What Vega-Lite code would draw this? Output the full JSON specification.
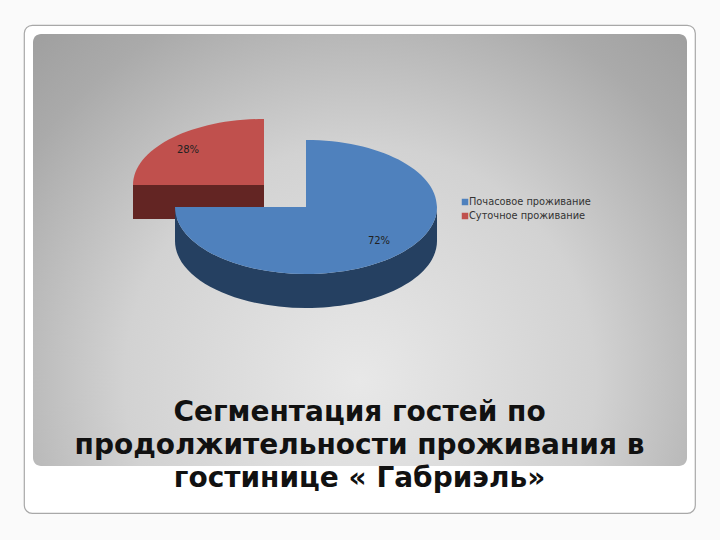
{
  "$schema": "https://vega.github.io/schema/vega-lite/v6.json",
  "width": 671,
  "height": 488,
  "autosize": "none",
  "padding": {"left": 24, "top": 25, "right": 25, "bottom": 27},
  "background": "#fafafa",
  "view": {"fill": "#ffffff", "stroke": "#a8a8a8", "strokeWidth": 1.2, "cornerRadius": 8},
  "title": {
    "text": ["Сегментация гостей по", "продолжительности проживания в", "гостинице « Габриэль»"],
    "orient": "bottom",
    "anchor": "middle",
    "frame": "group",
    "offset": -114,
    "font": "DejaVu Sans",
    "fontSize": 28,
    "fontWeight": "bold",
    "color": "#111111",
    "lineHeight": 33
  },
  "data": {
    "values": [
      {"segment": "Суточное проживание", "share": 0.28},
      {"segment": "Почасовое проживание", "share": 0.72}
    ]
  },
  "layer": [
    {
      "data": {"values": [{"part": "panel"}]},
      "mark": {
        "type": "point",
        "filled": true,
        "opacity": 1,
        "size": 4,
        "shape": "M -318.5 -235 H 319.5 A 8 8 0 0 1 327.5 -227 V 189 A 8 8 0 0 1 319.5 197 H -318.5 A 8 8 0 0 1 -326.5 189 V -227 A 8 8 0 0 1 -318.5 -235 Z",
        "color": {
          "gradient": "radial",
          "x1": 0.5, "y1": 0.7, "r1": 0,
          "x2": 0.5, "y2": 0.7, "r2": 0.72,
          "stops": [
            {"offset": 0, "color": "#e8e8e8"},
            {"offset": 0.5, "color": "#d2d2d2"},
            {"offset": 0.85, "color": "#aaaaaa"},
            {"offset": 1, "color": "#a0a0a0"}
          ]
        }
      }
    },
    {
      "mark": {"type": "point", "filled": true, "opacity": 1, "size": 4},
      "encoding": {
        "shape": {
          "field": "segment",
          "type": "nominal",
          "legend": null,
          "scale": {
            "domain": ["Почасовое проживание", "Суточное проживание"],
            "range": [
              "M 77.5 -62 L 77.5 -28 A 131 67 0 0 1 -184.5 -28 L -184.5 -62 A 131 67 0 0 0 77.5 -62 Z",
              "M -226.5 -84 L -95.5 -84 L -95.5 -50 L -226.5 -50 Z"
            ]
          }
        },
        "fill": {
          "field": "segment",
          "type": "nominal",
          "legend": null,
          "scale": {
            "domain": ["Почасовое проживание", "Суточное проживание"],
            "range": ["#254061", "#632523"]
          }
        }
      }
    },
    {
      "mark": {"type": "point", "filled": true, "opacity": 1, "size": 4},
      "encoding": {
        "shape": {
          "field": "segment",
          "type": "nominal",
          "legend": null,
          "scale": {
            "domain": ["Почасовое проживание", "Суточное проживание"],
            "range": [
              "M -53.5 -62 L -53.5 -129 A 131 67 0 1 1 -184.5 -62 Z",
              "M -95.5 -84 L -95.5 -150 A 131 66 0 0 0 -226.5 -84 Z"
            ]
          }
        },
        "color": {
          "field": "segment",
          "type": "nominal",
          "legend": null,
          "scale": {
            "domain": ["Почасовое проживание", "Суточное проживание"],
            "range": ["#4f81bd", "#c0504d"]
          }
        }
      }
    },
    {
      "mark": {"type": "text", "font": "DejaVu Sans", "fontSize": 10, "color": "#222222"},
      "encoding": {
        "text": {"field": "share", "type": "quantitative", "format": ".0%"},
        "x": {
          "field": "segment",
          "type": "nominal",
          "axis": null,
          "scale": {"domain": ["Почасовое проживание", "Суточное проживание"], "range": [355, 164], "padding": 0}
        },
        "y": {
          "field": "segment",
          "type": "nominal",
          "axis": null,
          "scale": {"domain": ["Почасовое проживание", "Суточное проживание"], "range": [216, 125], "padding": 0}
        }
      }
    },
    {
      "mark": {"type": "square", "size": 42, "opacity": 1},
      "encoding": {
        "x": {
          "field": "segment",
          "type": "nominal",
          "axis": null,
          "scale": {"domain": ["Почасовое проживание", "Суточное проживание"], "range": [441, 441], "padding": 0}
        },
        "y": {
          "field": "segment",
          "type": "nominal",
          "axis": null,
          "scale": {"domain": ["Почасовое проживание", "Суточное проживание"], "range": [177, 191], "padding": 0}
        },
        "color": {"field": "segment", "type": "nominal", "legend": null}
      }
    },
    {
      "mark": {"type": "text", "font": "DejaVu Sans", "fontSize": 9.8, "color": "#333333", "align": "left"},
      "encoding": {
        "text": {"field": "segment", "type": "nominal"},
        "x": {
          "field": "segment",
          "type": "nominal",
          "axis": null,
          "scale": {"domain": ["Почасовое проживание", "Суточное проживание"], "range": [445, 445], "padding": 0}
        },
        "y": {
          "field": "segment",
          "type": "nominal",
          "axis": null,
          "scale": {"domain": ["Почасовое проживание", "Суточное проживание"], "range": [177, 191], "padding": 0}
        }
      }
    }
  ],
  "resolve": {"scale": {"shape": "independent", "x": "independent", "y": "independent"}}
}
